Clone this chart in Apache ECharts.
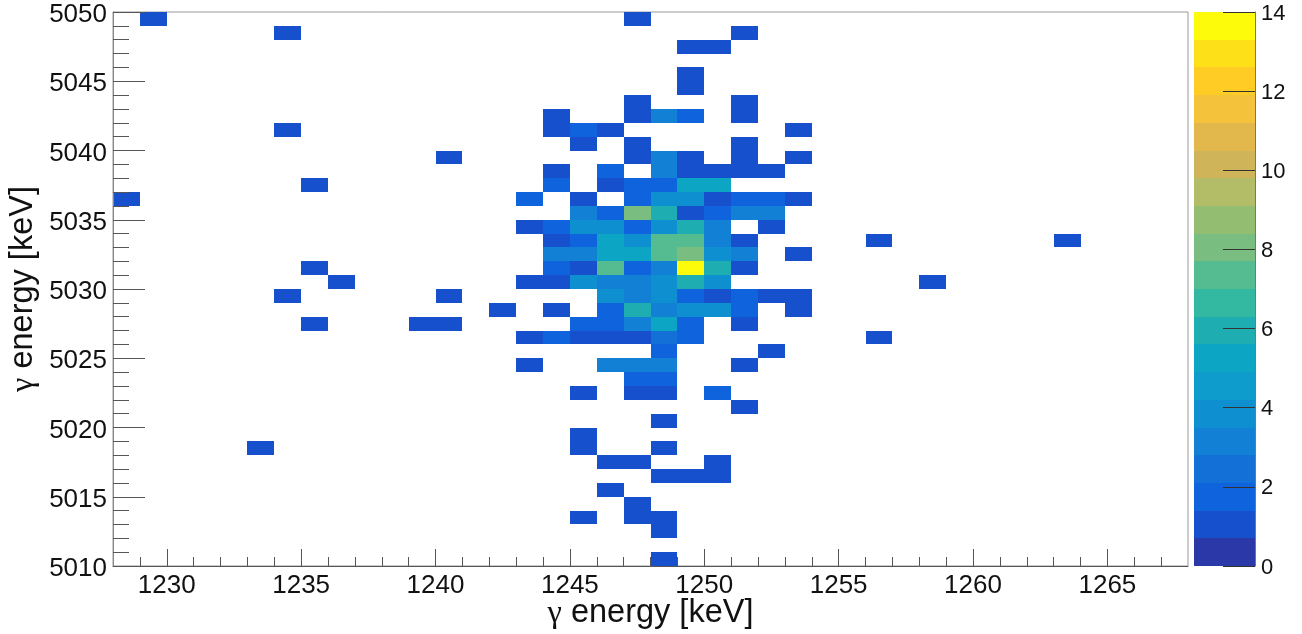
<!DOCTYPE html>
<html>
<head>
<meta charset="utf-8">
<style>html,body{margin:0;padding:0;background:#fff}#c{width:1302px;height:634px}</style>
<script src="https://cdn.jsdelivr.net/npm/echarts@6/dist/echarts.min.js"></script>
</head>
<body>
<div id="c"></div>
<script>
// lower edges of occupied bins (keV) and their counts, listed row by row from the top
const binX = [
 1229,1247,
 1234,1251,
 1249,1250,
 1249,
 1249,
 1247,1251,
 1244,1247,1248,1249,1251,
 1234,1244,1245,1246,1253,
 1245,1247,1251,
 1240,1247,1248,1249,1251,1253,
 1244,1246,1248,1249,1250,1251,1252,
 1244,1246,1247,1248,1249,1250,1235,
 1228,1243,1245,1247,1248,1249,1250,1251,1252,1253,
 1245,1246,1247,1248,1249,1250,1251,1252,
 1243,1244,1245,1246,1247,1248,1249,1250,1252,
 1244,1245,1246,1247,1248,1249,1250,1251,1256,1263,
 1244,1245,1246,1247,1248,1249,1250,1251,1253,
 1235,1244,1245,1246,1247,1248,1249,1250,1251,
 1236,1243,1244,1245,1246,1247,1248,1249,1250,1258,
 1234,1240,1246,1247,1248,1249,1250,1251,1252,1253,
 1242,1244,1246,1247,1248,1249,1250,1251,1253,
 1235,1239,1240,1245,1246,1247,1248,1249,1251,
 1243,1244,1245,1246,1247,1248,1249,1256,
 1248,1252,
 1243,1246,1247,1248,1251,
 1247,1248,
 1245,1247,1248,1250,
 1251,
 1248,
 1245,
 1233,1245,1248,
 1246,1247,1250,
 1248,1249,1250,
 1246,
 1247,
 1245,1247,1248,
 1248,
 1248
];
const binY = [
 5049,5049,
 5048,5048,
 5047,5047,
 5045,
 5044,
 5043,5043,
 5042,5042,5042,5042,5042,
 5041,5041,5041,5041,5041,
 5040,5040,5040,
 5039,5039,5039,5039,5039,5039,
 5038,5038,5038,5038,5038,5038,5038,
 5037,5037,5037,5037,5037,5037,5037,
 5036,5036,5036,5036,5036,5036,5036,5036,5036,5036,
 5035,5035,5035,5035,5035,5035,5035,5035,
 5034,5034,5034,5034,5034,5034,5034,5034,5034,
 5033,5033,5033,5033,5033,5033,5033,5033,5033,5033,
 5032,5032,5032,5032,5032,5032,5032,5032,5032,
 5031,5031,5031,5031,5031,5031,5031,5031,5031,
 5030,5030,5030,5030,5030,5030,5030,5030,5030,5030,
 5029,5029,5029,5029,5029,5029,5029,5029,5029,5029,
 5028,5028,5028,5028,5028,5028,5028,5028,5028,
 5027,5027,5027,5027,5027,5027,5027,5027,5027,
 5026,5026,5026,5026,5026,5026,5026,5026,
 5025,5025,
 5024,5024,5024,5024,5024,
 5023,5023,
 5022,5022,5022,5022,
 5021,
 5020,
 5019,
 5018,5018,5018,
 5017,5017,5017,
 5016,5016,5016,
 5015,
 5014,
 5013,5013,5013,
 5012,
 5010
];
const binCount = [
 1,1,
 1,1,
 1,1,
 1,
 1,
 1,1,
 1,1,3,2,1,
 1,1,2,1,1,
 1,1,1,
 1,1,3,1,1,1,
 1,2,3,1,1,1,1,
 2,1,2,2,5,5,1,
 1,2,1,2,4,4,1,2,2,1,
 3,2,8,6,1,2,3,3,
 1,2,4,4,2,4,6,3,1,
 1,2,5,4,7,7,3,1,1,1,
 3,3,5,5,7,8,4,3,1,
 1,2,1,7,2,3,14,6,1,
 1,1,1,4,3,3,4,6,4,1,
 1,1,4,3,4,2,1,2,1,1,
 1,1,2,6,3,4,4,2,1,
 1,1,1,2,2,3,5,2,1,
 1,2,1,1,1,2.5,2,1,
 2,1,
 1,3,3,3,1,
 2,2,
 1,1,1,2,
 1,
 1,
 1,
 1,1,1,
 1,1,1,
 1,1,1,
 1,
 1,
 1,1,1,
 1,
 1
];
const xMajorTicks = [1230,1235,1240,1245,1250,1255,1260,1265];
const xMinorTicks = [1229,1231,1232,1233,1234,1236,1237,1238,1239,1241,1242,1243,1244,1246,1247,1248,1249,1251,1252,1253,1254,1256,1257,1258,1259,1261,1262,1263,1264,1266,1267];
const yMajorTicks = [5010,5015,5020,5025,5030,5035,5040,5045,5050];
const yMinorTicks = [5011,5012,5013,5014,5016,5017,5018,5019,5021,5022,5023,5024,5026,5027,5028,5029,5031,5032,5033,5034,5036,5037,5038,5039,5041,5042,5043,5044,5046,5047,5048,5049];
const barTicks = [0,2,4,6,8,10,12,14];
const levelEdges = [0,0.7,1.4,2.1,2.8,3.5,4.2,4.9,5.6,6.3,7,7.7,8.4,9.1,9.8,10.5,11.2,11.9,12.6,13.3,14];
const levelColors = ['#2a38a8','#1650cc','#0f64de','#1270d6','#1280d4','#0e8fd0','#0d9ccc','#0ca6c4','#1eaeb2','#33b8a2','#54bc90','#7abd80','#93be72','#b3bd67','#cfb45a','#e2b84c','#f5c23c','#ffcb25','#fde018','#fdfa0a'];

const colorOf = v => {
  let i = 0;
  while (i < levelColors.length - 1 && v >= levelEdges[i + 1]) i++;
  return levelColors[i];
};
const fontName = '"Liberation Sans", Arial, sans-serif';
const axisGrey = '#555';
const titleText = '{g|γ} energy [keV]';
const titleStyle = {
  fontFamily: fontName, fontSize: 32.5, color: '#111',
  rich: {g: {fontFamily: '"Liberation Serif", serif', fontSize: 32.5, color: '#111'}}
};
const chart = echarts.init(document.getElementById('c'), null, {renderer: 'canvas'});
const snapRect = (a, b) => {
  const x0 = Math.round(Math.min(a[0], b[0])), x1 = Math.round(Math.max(a[0], b[0]));
  const y0 = Math.round(Math.min(a[1], b[1])), y1 = Math.round(Math.max(a[1], b[1]));
  return {x: x0, y: y0, width: x1 - x0, height: y1 - y0};
};
const cellItem = (params, api) => {
  const a = api.coord([api.value(0), api.value(1) + 1]);
  const b = api.coord([api.value(0) + 1, api.value(1)]);
  return {type: 'rect', shape: snapRect(a, b), style: {fill: colorOf(api.value(2))}};
};
const barItem = (params, api) => {
  const a = api.coord([0, api.value(0)]);
  const b = api.coord([1, api.value(1)]);
  return {type: 'rect', shape: snapRect(a, b), style: {fill: levelColors[params.dataIndex]}};
};
chart.setOption({
  animation: false,
  backgroundColor: '#fff',
  grid: [
    {left: 113, top: 12, width: 1075, height: 554, outerBoundsMode: 'none', show: true, borderColor: '#999', borderWidth: 1, backgroundColor: '#fff'},
    {left: 1194, top: 12, width: 61, height: 554, outerBoundsMode: 'none', show: false}
  ],
  xAxis: [
    {type: 'value', gridIndex: 0, position: 'bottom', min: 1228, max: 1268, z: 5,
     name: titleText, nameLocation: 'middle', nameGap: 31, nameMoveOverlap: false,
     nameTextStyle: titleStyle,
     axisLine: {show: true, onZero: false, lineStyle: {color: axisGrey, width: 1}},
     axisTick: {show: true, inside: true, length: 17, customValues: xMajorTicks, lineStyle: {color: axisGrey, width: 1}},
     axisLabel: {show: true, customValues: xMajorTicks, margin: 7, fontFamily: fontName, fontSize: 26, color: '#111', formatter: v => String(v)},
     splitLine: {show: false}},
    {type: 'value', gridIndex: 0, position: 'bottom', min: 1228, max: 1268, z: 5,
     axisLine: {show: false},
     axisTick: {show: true, inside: true, length: 9, customValues: xMinorTicks, lineStyle: {color: axisGrey, width: 1}},
     axisLabel: {show: false}, splitLine: {show: false}},
    {type: 'value', gridIndex: 1, min: 0, max: 1, show: false}
  ],
  yAxis: [
    {type: 'value', gridIndex: 0, position: 'left', min: 5010, max: 5050, z: 5,
     name: titleText, nameLocation: 'middle', nameGap: 73, nameRotate: 90, nameMoveOverlap: false,
     nameTextStyle: titleStyle,
     axisLine: {show: true, onZero: false, lineStyle: {color: '#888', width: 1}},
     axisTick: {show: true, inside: true, length: 32, customValues: yMajorTicks, lineStyle: {color: axisGrey, width: 1}},
     axisLabel: {show: true, customValues: yMajorTicks, margin: 6, verticalAlign: 'top', lineHeight: 6, fontFamily: fontName, fontSize: 26, color: '#111', formatter: v => String(v)},
     splitLine: {show: false}},
    {type: 'value', gridIndex: 0, position: 'left', min: 5010, max: 5050, z: 5,
     axisLine: {show: false},
     axisTick: {show: true, inside: true, length: 16, customValues: yMinorTicks, lineStyle: {color: axisGrey, width: 1}},
     axisLabel: {show: false}, splitLine: {show: false}},
    {type: 'value', gridIndex: 1, position: 'right', min: 0, max: 14, z: 5,
     axisLine: {show: true, onZero: false, lineStyle: {color: '#777', width: 1}},
     axisTick: {show: true, inside: true, length: 32, customValues: barTicks, lineStyle: {color: '#333', width: 1}},
     axisLabel: {show: true, customValues: barTicks, margin: 6, verticalAlign: 'top', lineHeight: 3, fontFamily: fontName, fontSize: 22, color: '#111', formatter: v => String(v)},
     splitLine: {show: false}}
  ],
  series: [
    {type: 'custom', xAxisIndex: 0, yAxisIndex: 0, clip: true, renderItem: cellItem, z: 2,
     encode: {x: 0, y: 1},
     data: binX.map((x, i) => [x, binY[i], binCount[i]])},
    {type: 'custom', xAxisIndex: 2, yAxisIndex: 2, renderItem: barItem, z: 2,
     encode: {y: [0, 1]},
     data: levelColors.map((c, i) => [levelEdges[i], levelEdges[i + 1]])}
  ]
});
</script>
</body>
</html>
